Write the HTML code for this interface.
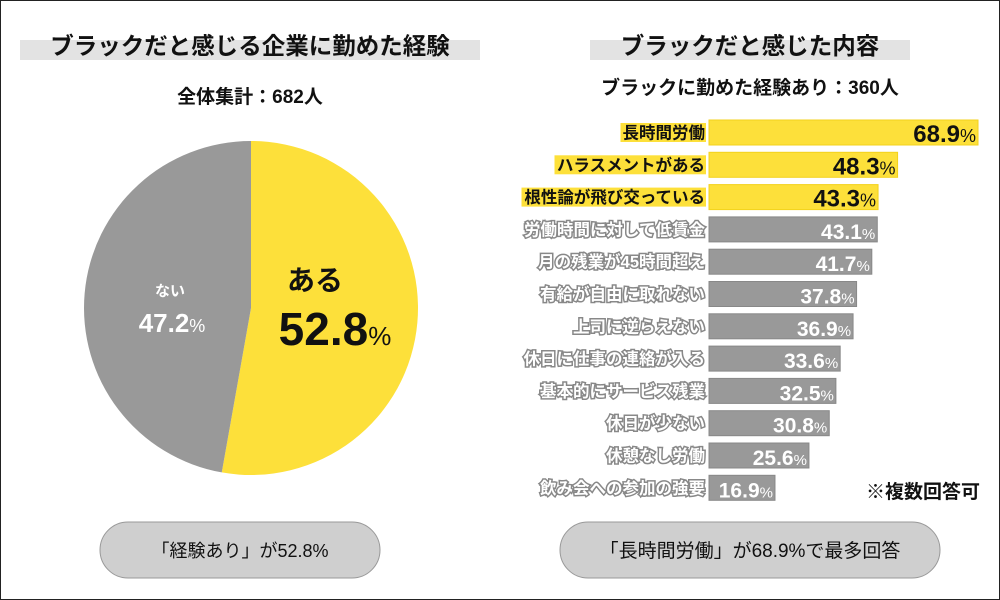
<!DOCTYPE html>
<html><head><meta charset="utf-8"><style>
body{margin:0;background:#fff}
svg{display:block;font-family:"Liberation Sans","Noto Sans CJK JP",sans-serif}
</style></head><body>
<svg id="c" width="1000" height="600" viewBox="0 0 1000 600" xmlns="http://www.w3.org/2000/svg">
<rect x="0.5" y="0.5" width="999" height="599" fill="#fff" stroke="#222"/>
<rect x="20" y="40" width="460" height="20" fill="#e3e3e3"/>
<text x="250" y="54" text-anchor="middle" font-size="23.5" font-weight="bold" fill="#111">ブラックだと感じる企業に勤めた経験</text>
<text x="250" y="103" text-anchor="middle" font-size="19" font-weight="bold" fill="#111">全体集計：682人</text>
<rect x="590" y="40" width="320" height="20" fill="#e3e3e3"/>
<text x="750" y="54" text-anchor="middle" font-size="23.5" font-weight="bold" fill="#111">ブラックだと感じた内容</text>
<text x="750" y="94" text-anchor="middle" font-size="19" font-weight="bold" fill="#111">ブラックに勤めた経験あり：360人</text>
<g id="pie"></g>
<g id="bars"></g>
<text x="980" y="498" text-anchor="end" font-size="19" font-weight="bold" fill="#111">※複数回答可</text>
<rect x="100" y="522" width="280" height="56" rx="28" fill="#cfcfcf" stroke="#999"/>
<text x="240" y="557" text-anchor="middle" font-size="18" fill="#111">「経験あり」が52.8%</text>
<rect x="560" y="522" width="380" height="56" rx="28" fill="#cfcfcf" stroke="#999"/>
<text x="750" y="557" text-anchor="middle" font-size="19" fill="#111">「長時間労働」が68.9%で最多回答</text>
</svg>
<script>
const pieLabels=["ある","ない"];
const pieValues=[52.8,47.2];
const barLabels=["長時間労働","ハラスメントがある","根性論が飛び交っている","労働時間に対して低賃金","月の残業が45時間超え","有給が自由に取れない","上司に逆らえない","休日に仕事の連絡が入る","基本的にサービス残業","休日が少ない","休憩なし労働","飲み会への参加の強要"];
const barValues=[68.9,48.3,43.3,43.1,41.7,37.8,36.9,33.6,32.5,30.8,25.6,16.9];
const NS="http://www.w3.org/2000/svg";
function mk(t,a,p){const e=document.createElementNS(NS,t);for(const k in a)e.setAttribute(k,a[k]);p.appendChild(e);return e;}
const pg=document.getElementById('pie');
const cx=251,cy=308,r=167;
const tot=pieValues.reduce((a,b)=>a+b,0);
const cols=["#fde03a","#999999"];
let ang=0;
pieValues.forEach((v,i)=>{
  const a0=ang,a1=ang+v/tot*2*Math.PI;ang=a1;
  const x0=cx+r*Math.sin(a0),y0=cy-r*Math.cos(a0),x1=cx+r*Math.sin(a1),y1=cy-r*Math.cos(a1);
  const p=mk('path',{d:`M${cx},${cy}L${x0},${y0}A${r},${r} 0 ${a1-a0>Math.PI?1:0} 1 ${x1},${y1}Z`,fill:cols[i]},pg);
  
  
});
let t=mk('text',{x:315,y:290,'text-anchor':'middle','font-size':28,'font-weight':'bold',fill:'#111'},pg);t.textContent=pieLabels[0];


t=mk('text',{x:335,y:345,'text-anchor':'middle','font-size':46,'font-weight':'bold',fill:'#111'},pg);
t.innerHTML=pieValues[0].toFixed(1)+'<tspan font-size="26" font-weight="normal">%</tspan>';


t=mk('text',{x:170,y:296,'text-anchor':'middle','font-size':15,'font-weight':'bold',fill:'#fff'},pg);t.textContent=pieLabels[1];


t=mk('text',{x:172,y:332,'text-anchor':'middle','font-size':26,'font-weight':'bold',fill:'#fff'},pg);
t.innerHTML=pieValues[1].toFixed(1)+'<tspan font-size="18" font-weight="normal">%</tspan>';


const bg=document.getElementById('bars');
const x0=709,sc=269/68.9,y0=120,pitch=32.3,bh=25,fs=16.5;
const xs=v=>v*sc;
barLabels.forEach((lab,i)=>{
  const hi=i<3,y=y0+i*pitch,w=xs(barValues[i]);
  const b=mk('rect',{x:x0,y:y,width:w,height:bh,fill:hi?'#fde03a':'#999',stroke:hi?'#f3d21c':'#888'},bg);
  
  
  const v=mk('text',{x:x0+w-2,y:y+bh-3,'text-anchor':'end','font-size':hi?24:21,'font-weight':'bold',fill:hi?'#111':'#fff'},bg);
  v.innerHTML=barValues[i].toFixed(1)+'<tspan font-size="'+(hi?18:15)+'" font-weight="normal">%</tspan>';
  
  
  if(hi){const hb=mk('rect',{x:x0-6-lab.length*fs,y:y+3,width:lab.length*fs+3,height:bh-6,fill:'#fde03a'},bg);
  
  }
  const l=mk('text',{x:x0-4,y:y+bh/2+6,'text-anchor':'end','font-size':fs,'font-weight':'bold',fill:hi?'#111':'#fff',stroke:hi?'none':'#888','stroke-width':hi?0:3,'paint-order':'stroke'},bg);
  l.textContent=lab;
  
  
});
</script>
</body></html>
